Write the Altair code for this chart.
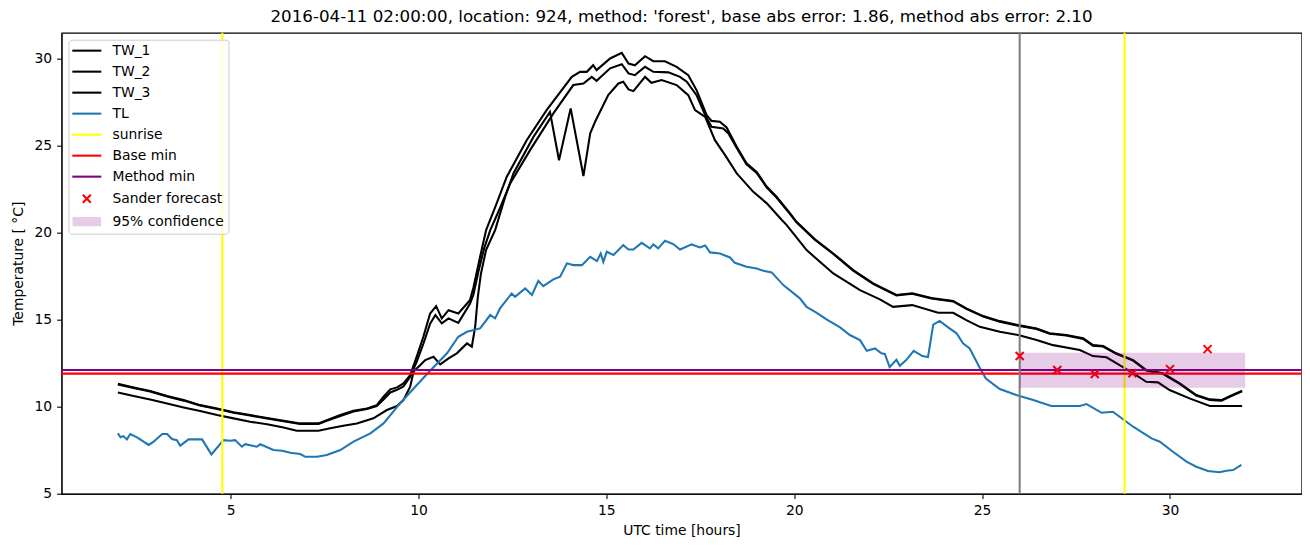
import altair as alt
import pandas as pd

# ---------------- data ----------------
tw1_t = [2.0, 2.42, 2.86, 3.31, 3.75, 4.19, 4.64, 5.08, 5.52, 5.97, 6.41, 6.85, 7.34, 7.56, 7.92, 8.27, 8.63, 8.89,
         9.07, 9.25, 9.43, 9.60, 9.78, 9.96, 10.13, 10.31, 10.47, 10.62, 10.80, 11.06, 11.37, 11.46, 11.64, 11.80,
         12.05, 12.35, 12.88, 13.41, 14.08, 14.30, 14.48, 14.65, 14.74, 15.10, 15.41, 15.59, 15.76, 16.03, 16.25,
         16.56, 16.87, 17.18, 17.40, 17.67, 17.80, 18.02, 18.20, 18.47, 18.73, 19.00, 19.27, 19.53, 19.89, 20.06,
         20.55, 21.04, 21.57, 22.10, 22.72, 23.14, 23.65, 24.23, 24.58, 25.03, 25.47, 25.96, 26.45, 26.80, 27.24,
         27.69, 27.95, 28.22, 28.57, 29.02, 29.37, 29.81, 30.26, 30.70, 31.06, 31.37, 31.59, 31.92]
tw1_v = [11.30, 11.09, 10.88, 10.59, 10.36, 10.07, 9.88, 9.66, 9.50, 9.33, 9.17, 9.02, 9.02, 9.21, 9.50, 9.75, 9.88,
         10.07, 10.55, 10.98, 11.09, 11.32, 11.80, 12.90, 14.00, 15.34, 15.76, 15.06, 15.53, 15.34, 16.10, 16.80,
         18.60, 20.13, 21.50, 23.20, 25.30, 27.03, 28.94, 29.23, 29.23, 29.61, 29.33, 30.00, 30.32, 29.71, 29.61,
         30.13, 29.84, 29.84, 29.52, 29.04, 28.18, 26.74, 26.41, 26.36, 26.03, 24.92, 23.97, 23.48, 22.62, 22.05,
         21.09, 20.61, 19.60, 18.79, 17.83, 17.07, 16.40, 16.50, 16.23, 16.06, 15.63, 15.19, 14.90, 14.67, 14.48,
         14.20, 14.10, 13.91, 13.52, 13.47, 13.05, 12.66, 12.09, 11.90, 11.32, 10.65, 10.40, 10.36, 10.59, 10.90]

tw2_t = [2.0, 2.42, 2.86, 3.31, 3.75, 4.19, 4.64, 5.08, 5.52, 5.97, 6.41, 6.85, 7.34, 7.56, 7.92, 8.27, 8.63, 8.89,
         9.07, 9.25, 9.43, 9.60, 9.78, 9.96, 10.13, 10.31, 10.45, 10.62, 10.80, 11.06, 11.37, 11.46, 11.60, 11.75,
         11.91, 12.15, 12.44, 12.97, 13.59, 14.12, 14.39, 14.61, 14.74, 15.10, 15.41, 15.59, 15.76, 16.03, 16.25,
         16.65, 16.96, 17.14, 17.40, 17.63, 17.80, 18.11, 18.25, 18.47, 18.73, 19.00, 19.27, 19.53, 19.89, 20.06,
         20.55, 21.04, 21.57, 22.10, 22.72, 23.14, 23.65, 24.23, 24.58, 25.03, 25.47, 25.96, 26.45, 26.80, 27.24,
         27.69, 27.95, 28.22, 28.57, 29.02, 29.37, 29.81, 30.26, 30.70, 31.06, 31.37, 31.59, 31.92]
tw2_v = [11.26, 11.06, 10.85, 10.57, 10.33, 10.05, 9.85, 9.63, 9.47, 9.30, 9.14, 8.99, 8.99, 9.17, 9.45, 9.70, 9.85,
         10.02, 10.40, 10.80, 10.95, 11.15, 11.70, 12.60, 13.60, 14.75, 15.25, 14.77, 15.06, 14.80, 15.90, 16.40,
         17.80, 19.10, 20.13, 21.30, 22.82, 24.73, 26.84, 28.47, 28.56, 28.94, 28.71, 29.43, 29.67, 29.14, 29.04,
         29.52, 29.23, 29.20, 28.94, 28.66, 27.89, 26.74, 26.07, 25.97, 25.69, 24.85, 23.92, 23.42, 22.58, 22.00,
         21.05, 20.58, 19.58, 18.76, 17.80, 17.04, 16.38, 16.47, 16.20, 16.03, 15.60, 15.16, 14.87, 14.64, 14.45,
         14.17, 14.07, 13.88, 13.49, 13.44, 13.02, 12.63, 12.06, 11.87, 11.29, 10.62, 10.37, 10.33, 10.55, 10.86]

tw3_t = [2.0, 2.42, 2.86, 3.31, 3.75, 4.19, 4.64, 5.08, 5.52, 5.97, 6.41, 6.76, 7.34, 7.65, 8.00, 8.36, 8.80, 9.16,
         9.43, 9.60, 9.78, 9.87, 10.09, 10.18, 10.40, 10.58, 10.80, 11.02, 11.29, 11.42, 11.51, 11.58, 11.66, 11.80,
         12.04, 12.30, 12.53, 13.06, 13.50, 13.74, 14.05, 14.39, 14.57, 14.70, 15.05, 15.32, 15.45, 15.59, 15.72,
         16.03, 16.20, 16.47, 16.87, 17.18, 17.36, 17.63, 17.89, 18.16, 18.47, 18.91, 19.27, 19.67, 19.80, 20.33,
         21.04, 21.75, 22.28, 22.63, 23.14, 23.83, 24.23, 24.58, 24.94, 25.47, 25.96, 26.45, 26.89, 27.60, 27.95,
         28.31, 28.66, 29.10, 29.37, 29.68, 29.99, 30.52, 31.06, 31.92]
tw3_v = [10.80, 10.59, 10.40, 10.17, 9.94, 9.73, 9.50, 9.31, 9.12, 8.97, 8.79, 8.60, 8.60, 8.74, 8.89, 9.02, 9.31,
         9.79, 10.02, 10.36, 11.13, 12.00, 12.47, 12.66, 12.85, 12.41, 12.76, 13.05, 13.62, 13.43, 14.60, 16.30,
         17.60, 19.00, 20.13, 22.00, 23.40, 25.49, 26.93, 24.15, 27.13, 23.24, 25.69, 26.36, 27.89, 28.56, 28.66,
         28.22, 28.12, 28.94, 28.60, 28.76, 28.47, 27.89, 27.03, 26.64, 25.30, 24.44, 23.39, 22.33, 21.67, 20.71,
         20.42, 18.98, 17.64, 16.68, 16.15, 15.72, 15.82, 15.38, 15.38, 14.96, 14.57, 14.29, 14.10, 13.81, 13.52,
         13.24, 12.89, 12.82, 12.37, 11.80, 11.41, 11.38, 10.94, 10.46, 10.02, 10.02]

tl_t = [2.0, 2.07, 2.15, 2.24, 2.33, 2.51, 2.82, 2.95, 3.18, 3.31, 3.44, 3.57, 3.66, 3.88, 4.24, 4.49, 4.81, 4.99,
        5.12, 5.30, 5.39, 5.70, 5.79, 6.14, 6.37, 6.59, 6.85, 6.99, 7.30, 7.56, 7.92, 8.27, 8.72, 9.07, 9.47, 9.87,
        10.31, 10.76, 11.06, 11.29, 11.64, 11.91, 12.04, 12.17, 12.48, 12.57, 12.84, 13.02, 13.19, 13.32, 13.59,
        13.77, 13.95, 14.12, 14.35, 14.57, 14.75, 14.85, 14.92, 15.01, 15.19, 15.45, 15.59, 15.72, 15.94, 16.16,
        16.25, 16.38, 16.56, 16.78, 16.96, 17.27, 17.49, 17.63, 17.76, 18.02, 18.29, 18.42, 18.73, 19.00, 19.18,
        19.40, 19.71, 20.15, 20.33, 20.60, 20.86, 21.22, 21.48, 21.75, 21.93, 22.15, 22.32, 22.41, 22.54, 22.72,
        22.81, 22.98, 23.18, 23.41, 23.56, 23.70, 23.87, 24.05, 24.32, 24.49, 24.67, 24.94, 25.10, 25.47, 25.91,
        26.36, 26.84, 27.60, 27.78, 28.18, 28.48, 29.02, 29.51, 29.73, 30.08, 30.44, 30.70, 31.01, 31.32, 31.50,
        31.68, 31.90]
tl_v = [8.45, 8.22, 8.29, 8.10, 8.41, 8.22, 7.78, 7.97, 8.41, 8.41, 8.12, 8.06, 7.74, 8.10, 8.10, 7.24, 8.06, 8.02,
        8.06, 7.68, 7.83, 7.68, 7.82, 7.49, 7.45, 7.33, 7.26, 7.10, 7.10, 7.20, 7.49, 7.97, 8.45, 9.02, 10.07, 11.03,
        12.05, 13.05, 14.00, 14.29, 14.48, 15.25, 15.06, 15.63, 16.49, 16.30, 16.78, 16.40, 17.22, 16.91, 17.30,
        17.45, 18.22, 18.12, 18.12, 18.60, 18.35, 18.79, 18.31, 18.89, 18.70, 19.27, 19.02, 19.02, 19.40, 19.08,
        19.31, 19.08, 19.52, 19.33, 19.02, 19.31, 19.14, 19.25, 18.85, 18.79, 18.56, 18.25, 18.02, 17.93, 17.79,
        17.70, 16.97, 16.21, 15.72, 15.38, 15.00, 14.54, 14.10, 13.81, 13.20, 13.33, 13.05, 13.01, 12.26, 12.68,
        12.33, 12.66, 13.19, 12.89, 12.83, 14.70, 14.91, 14.61, 14.20, 13.62, 13.33, 12.20, 11.60, 11.00, 10.65,
        10.36, 10.02, 10.02, 10.13, 9.63, 9.69, 8.83, 8.16, 7.97, 7.39, 6.82, 6.53, 6.28, 6.21, 6.30,
        6.34, 6.63]

sunrise_hours = [4.78, 28.79]
forecast_start = [26.0]
base_min = [11.88]
method_min = [12.09]
sander_hours = [26, 27, 28, 29, 30, 31]
sander_values = [12.89, 12.09, 11.86, 11.90, 12.14, 13.29]
conf_start, conf_end = [26.0], [32.0]
conf_low, conf_high = [11.07], [13.08]

legend_labels = ["TW_1", "TW_2", "TW_3", "TL", "sunrise", "Base min", "Method min",
                 "Sander forecast", "95% confidence"]
legend_colors = ["black", "black", "black", "#1f77b4", "#ffff00", "#ff0000", "#800080",
                 "#ff0000", "#e6cce6"]

title_text = ("2016-04-11 02:00:00, location: 924, method: 'forest', "
              "base abs error: 1.86, method abs error: 2.10")

# ---------------- tables ----------------
tw_df = pd.concat([
    pd.DataFrame({"t": tw1_t, "v": tw1_v, "series": "TW_1"}),
    pd.DataFrame({"t": tw2_t, "v": tw2_v, "series": "TW_2"}),
    pd.DataFrame({"t": tw3_t, "v": tw3_v, "series": "TW_3"}),
])
tl_df = pd.DataFrame({"t": tl_t, "v": tl_v})
sun_df = pd.DataFrame({"t": sunrise_hours})
fc_df = pd.DataFrame({"t": forecast_start})
base_df = pd.DataFrame({"v": base_min})
meth_df = pd.DataFrame({"v": method_min})
sander_df = pd.DataFrame({"t": sander_hours, "v": sander_values})
conf_df = pd.DataFrame({"t": conf_start, "t2": conf_end, "v": conf_low, "v2": conf_high})
leg_df = pd.DataFrame({"label": legend_labels})

FONT = "DejaVu Sans"
LW = 2.08  # 1.5 pt at 100 dpi
LINE_PATH = "M-2.9,0H2.9"
X_PATH = "M-0.8,-0.8L0.8,0.8M-0.8,0.8L0.8,-0.8"
# filled-looking rectangle built from overlapping strokes
RECT_PATH = "".join(f"M-2.85,{y:.2f}H2.85" for y in [-0.7, -0.5, -0.3, -0.1, 0.1, 0.3, 0.5, 0.7])
MARK_X = "M-1,-1L1,1M-1,1L1,-1"
legend_shapes = [LINE_PATH] * 7 + [X_PATH, RECT_PATH]

xs = alt.Scale(domain=[0.5, 33.5], nice=False, zero=False)
ys = alt.Scale(domain=[4.98, 31.48], nice=False, zero=False)
xax = alt.Axis(values=[5, 10, 15, 20, 25, 30], title="UTC time [hours]")
yax = alt.Axis(values=[5, 10, 15, 20, 25, 30], title="Temperature [ °C]")

X = alt.X("t:Q", scale=xs, axis=xax)
Y = alt.Y("v:Q", scale=ys, axis=yax)

tw = alt.Chart(tw_df).mark_line(color="black", strokeWidth=LW).encode(x=X, y=Y, detail="series:N")
tl = alt.Chart(tl_df).mark_line(color="#1f77b4", strokeWidth=LW).encode(x=X, y=Y)
sun = alt.Chart(sun_df).mark_rule(color="#ffff00", strokeWidth=LW).encode(x=alt.X("t:Q", scale=xs))
fc = alt.Chart(fc_df).mark_rule(color="#808080", strokeWidth=LW).encode(x=alt.X("t:Q", scale=xs))
base = alt.Chart(base_df).mark_rule(color="#ff0000", strokeWidth=LW).encode(y=alt.Y("v:Q", scale=ys))
meth = alt.Chart(meth_df).mark_rule(color="#800080", strokeWidth=LW).encode(y=alt.Y("v:Q", scale=ys))
sander = alt.Chart(sander_df).mark_point(shape=MARK_X, size=64, color="#ff0000", strokeWidth=LW,
                                         filled=False, opacity=1).encode(x=X, y=Y)
conf = alt.Chart(conf_df).mark_rect(color="#800080", opacity=0.2).encode(
    x=alt.X("t:Q", scale=xs), x2="t2:Q", y=alt.Y("v:Q", scale=ys), y2="v2:Q")

leg = alt.Legend(
    title=None, orient="top-left", offset=7, padding=4,
    strokeColor="#cccccc", fillColor="rgba(255,255,255,0.8)", cornerRadius=3,
    labelFont=FONT, labelFontSize=13.9, labelColor="black",
    symbolSize=100, symbolStrokeWidth=LW, rowPadding=6.0,
    symbolOffset=7.35, labelOffset=18.7,
)
legend_layer = alt.Chart(leg_df).transform_filter("false").mark_point(
    size=100, strokeWidth=LW, filled=False, opacity=1).encode(
    color=alt.Color("label:N", scale=alt.Scale(domain=legend_labels, range=legend_colors), legend=leg),
    shape=alt.Shape("label:N", scale=alt.Scale(domain=legend_labels, range=legend_shapes), legend=leg),
)

chart = alt.layer(tw, tl, sun, base, meth, fc, sander, conf, legend_layer).properties(
    width=1240, height=461,
    title=alt.TitleParams(title_text, font=FONT, fontSize=16.7, fontWeight="normal", color="black",
                          anchor="middle", offset=6),
    autosize=alt.AutoSizeParams(type="none"),
    padding={"left": 53.5, "top": 24.7, "right": 0, "bottom": 45},
).configure_view(stroke="black", strokeWidth=1.1).configure_axis(
    grid=False, labelFont=FONT, labelFontSize=13.9, labelColor="black",
    tickColor="black", tickSize=4.9, tickWidth=1.1, domainColor="black", domainWidth=1.1,
    labelPadding=5, titleFont=FONT, titleFontSize=13.9, titleFontWeight="normal", titleColor="black",
).configure_axisX(titlePadding=6.5).configure_axisY(titlePadding=8)

chart.save("out.html", embed_options={"renderer": "svg", "actions": False})
